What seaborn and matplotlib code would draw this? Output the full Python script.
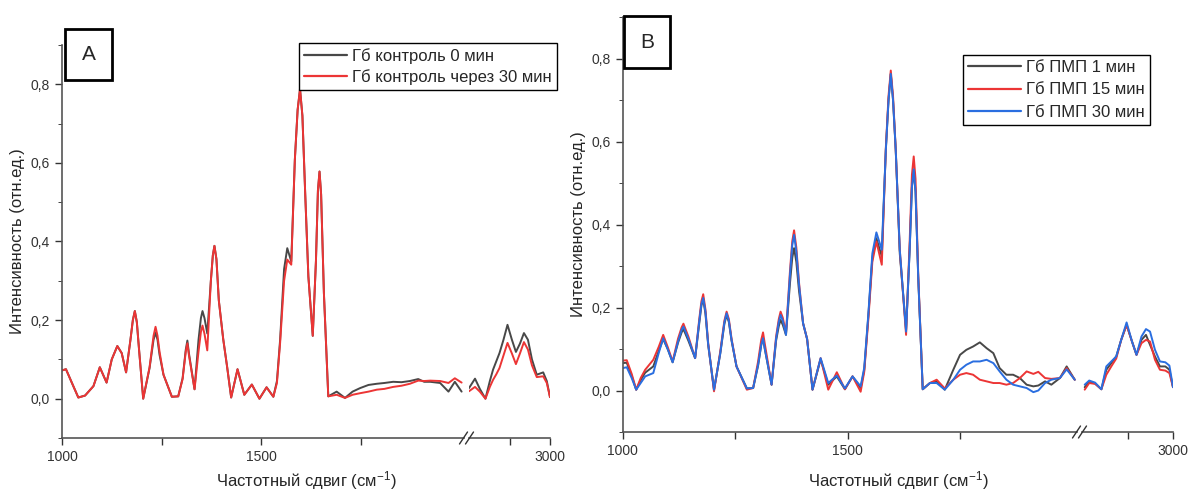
import numpy as np
import pandas as pd
import matplotlib
matplotlib.use("Agg")
import matplotlib.pyplot as plt
import seaborn as sns
from matplotlib.lines import Line2D
from matplotlib.patches import Rectangle
from matplotlib.ticker import FuncFormatter, FixedLocator

# ---- panel A: control Hb (segment 1000-2010 and 2800-3000 cm-1)
a1_x = [1000, 1010, 1025, 1041, 1058, 1079, 1095, 1112, 1125, 1139, 1150, 1161, 1172, 1178, 1183, 1188, 1194,
        1204, 1220, 1230, 1235, 1240, 1245, 1255, 1276, 1292, 1303, 1311, 1315, 1319, 1333, 1343, 1349, 1353, 1358,
        1365, 1374, 1379, 1383, 1388,
        1394, 1405, 1415, 1425, 1441, 1458, 1477, 1496, 1514, 1531, 1540, 1548, 1558, 1566, 1576,
        1585, 1592, 1598, 1604, 1611, 1619, 1630, 1638, 1643, 1647, 1651, 1658, 1669, 1690, 1711, 1730, 1749, 1770,
        1791,
        1810, 1832, 1853, 1874, 1895, 1910, 1925, 1950, 1971, 1987, 2004]
a1_black = [0.072, 0.075, 0.040, 0.003, 0.008, 0.032, 0.080, 0.041, 0.100, 0.134, 0.116, 0.067, 0.150, 0.200, 0.223,
            0.195, 0.120,
            0.000, 0.078, 0.150, 0.168, 0.150, 0.112, 0.061, 0.005, 0.006, 0.052, 0.125, 0.148, 0.115, 0.024, 0.150,
            0.205, 0.223, 0.205, 0.166, 0.300, 0.365, 0.389, 0.355,
            0.250, 0.152, 0.080, 0.003, 0.075, 0.010, 0.036, 0.000, 0.029, 0.005, 0.045, 0.150, 0.330, 0.383, 0.349,
            0.608, 0.735, 0.788, 0.720, 0.523, 0.311, 0.160, 0.350, 0.530, 0.578, 0.520, 0.269, 0.006, 0.018, 0.002,
            0.018, 0.027, 0.035, 0.038,
            0.040, 0.043, 0.042, 0.045, 0.050, 0.043, 0.043, 0.040, 0.018, 0.043, 0.018]
a1_red = [0.072, 0.075, 0.040, 0.003, 0.008, 0.032, 0.080, 0.041, 0.100, 0.134, 0.116, 0.067, 0.150, 0.200, 0.223,
          0.195, 0.120,
          0.000, 0.080, 0.160, 0.183, 0.160, 0.120, 0.061, 0.005, 0.006, 0.050, 0.120, 0.141, 0.110, 0.024, 0.120,
          0.170, 0.186, 0.165, 0.123, 0.300, 0.365, 0.389, 0.355,
          0.250, 0.152, 0.080, 0.003, 0.075, 0.010, 0.036, 0.000, 0.029, 0.005, 0.040, 0.142, 0.300, 0.354, 0.341,
          0.608, 0.735, 0.788, 0.720, 0.523, 0.311, 0.160, 0.350, 0.530, 0.578, 0.520, 0.269, 0.006, 0.010, 0.002,
          0.010, 0.014, 0.018, 0.023,
          0.025, 0.030, 0.033, 0.038, 0.046, 0.045, 0.046, 0.045, 0.040, 0.052, 0.041]
a2_x = [2798, 2813, 2825, 2839, 2850, 2858, 2866, 2874, 2884, 2894, 2905, 2915, 2925, 2935, 2945, 2955, 2967, 2983, 2992, 3000]
a2_black = [0.027, 0.051, 0.025, 0.000, 0.045, 0.074, 0.095, 0.116, 0.150, 0.188, 0.150, 0.119, 0.140, 0.167, 0.150,
            0.100, 0.061, 0.067, 0.045, 0.004]
a2_red = [0.019, 0.030, 0.018, 0.000, 0.030, 0.048, 0.062, 0.078, 0.110, 0.142, 0.115, 0.088, 0.115, 0.144, 0.125,
          0.085, 0.055, 0.057, 0.040, 0.004]
a_names = ["Гб контроль 0 мин", "Гб контроль через 30 мин"]

# ---- panel B: Hb + PMP at 1, 15, 30 min
b1_x = [1000, 1009, 1020, 1030, 1040, 1050, 1068, 1080, 1090, 1100, 1111, 1123, 1131, 1135, 1146, 1161,
        1170, 1175, 1179, 1184, 1190, 1203, 1217, 1226, 1231, 1236, 1242, 1253, 1276, 1290, 1301, 1308, 1312, 1316,
        1331, 1341, 1347, 1351, 1356,
        1363, 1372, 1377, 1381, 1386, 1392, 1401, 1410, 1422, 1440, 1457, 1476, 1494, 1511, 1529, 1537, 1546,
        1555, 1564, 1576, 1585, 1591, 1596, 1601, 1607, 1616, 1630, 1638, 1643, 1647, 1651, 1657, 1667, 1683, 1698,
        1716,
        1735, 1750, 1764, 1779, 1794, 1809, 1824, 1838, 1853, 1868, 1883, 1898, 1913, 1924, 1939, 1953, 1972, 1987,
        2005]
b1_black = [0.066, 0.067, 0.035, 0.002, 0.025, 0.043, 0.058, 0.095, 0.124, 0.100, 0.068, 0.115, 0.140, 0.148, 0.120,
            0.078,
            0.160, 0.205, 0.219, 0.185, 0.110, 0.002, 0.090, 0.160, 0.182, 0.165, 0.120, 0.058, 0.005, 0.006, 0.060,
            0.110, 0.126, 0.100, 0.014, 0.120, 0.155, 0.170, 0.158,
            0.134, 0.260, 0.320, 0.343, 0.310, 0.240, 0.162, 0.124, 0.002, 0.075, 0.014, 0.034, 0.003, 0.034, 0.006,
            0.050, 0.178,
            0.320, 0.367, 0.323, 0.580, 0.700, 0.763, 0.700, 0.580, 0.330, 0.146, 0.340, 0.490, 0.532, 0.480, 0.273,
            0.003, 0.018, 0.022, 0.002,
            0.050, 0.086, 0.098, 0.106, 0.116, 0.102, 0.090, 0.054, 0.038, 0.038, 0.030, 0.014, 0.010, 0.012, 0.022,
            0.014, 0.030, 0.058, 0.026]
b1_red = [0.072, 0.073, 0.040, 0.002, 0.030, 0.050, 0.074, 0.105, 0.134, 0.105, 0.070, 0.125, 0.152, 0.161, 0.130,
          0.078,
          0.170, 0.215, 0.232, 0.195, 0.115, -0.002, 0.095, 0.168, 0.190, 0.172, 0.125, 0.058, 0.002, 0.006, 0.070,
          0.122, 0.140, 0.112, 0.014, 0.130, 0.172, 0.190, 0.175,
          0.138, 0.290, 0.360, 0.386, 0.345, 0.260, 0.162, 0.124, 0.002, 0.078, 0.002, 0.044, 0.003, 0.034, -0.003,
          0.045, 0.170,
          0.310, 0.359, 0.303, 0.585, 0.710, 0.771, 0.710, 0.580, 0.339, 0.134, 0.360, 0.520, 0.564, 0.510, 0.280,
          0.003, 0.018, 0.026, 0.005,
          0.026, 0.038, 0.042, 0.038, 0.026, 0.022, 0.018, 0.018, 0.014, 0.018, 0.030, 0.046, 0.040, 0.045, 0.030,
          0.028, 0.030, 0.054, 0.026]
b1_blue = [0.054, 0.056, 0.030, 0.002, 0.018, 0.034, 0.042, 0.090, 0.126, 0.100, 0.068, 0.118, 0.146, 0.154, 0.125,
           0.078,
           0.165, 0.208, 0.223, 0.190, 0.112, 0.002, 0.090, 0.164, 0.186, 0.168, 0.122, 0.058, 0.005, 0.006, 0.062,
           0.110, 0.126, 0.100, 0.014, 0.125, 0.165, 0.182, 0.168,
           0.134, 0.280, 0.350, 0.375, 0.335, 0.255, 0.162, 0.124, 0.002, 0.078, 0.018, 0.036, 0.005, 0.034, 0.010,
           0.055, 0.182,
           0.330, 0.381, 0.339, 0.580, 0.700, 0.763, 0.700, 0.580, 0.339, 0.142, 0.340, 0.490, 0.533, 0.480, 0.273,
           0.003, 0.018, 0.018, 0.002,
           0.026, 0.050, 0.062, 0.070, 0.070, 0.074, 0.066, 0.046, 0.026, 0.014, 0.010, 0.006, -0.004, 0.000, 0.018,
           0.026, 0.030, 0.051, 0.026]
b2_x = [2804, 2814, 2827, 2841, 2852, 2863, 2874, 2885, 2897, 2909, 2919, 2930, 2940, 2949, 2960, 2971, 2983, 2992, 3000]
b2_black = [0.008, 0.020, 0.017, 0.003, 0.050, 0.066, 0.082, 0.122, 0.158, 0.118, 0.086, 0.122, 0.134, 0.110, 0.082,
            0.058, 0.058, 0.050, 0.008]
b2_red = [0.002, 0.018, 0.016, 0.003, 0.038, 0.058, 0.077, 0.122, 0.158, 0.118, 0.086, 0.114, 0.122, 0.118, 0.074,
          0.050, 0.048, 0.042, 0.008]
b2_blue = [0.014, 0.024, 0.019, 0.003, 0.058, 0.070, 0.082, 0.122, 0.164, 0.118, 0.086, 0.130, 0.148, 0.142, 0.098,
           0.070, 0.068, 0.060, 0.008]
b_names = ["Гб ПМП 1 мин", "Гб ПМП 15 мин", "Гб ПМП 30 мин"]

colors = ["#484848", "#ec3535", "#2a6ee0"]

sns.set_style("ticks")
plt.rcParams['font.family'] = ['Liberation Sans', 'DejaVu Sans']
plt.rcParams['mathtext.fontset'] = 'custom'
plt.rcParams['mathtext.rm'] = 'Liberation Sans'
plt.rcParams['mathtext.it'] = 'Liberation Sans'

W, H = 1191, 493
fig = plt.figure(figsize=(W / 100, H / 100), dpi=100)


def box(x0, x1, ytop, ybot):
    return [x0 / W, 1 - ybot / H, (x1 - x0) / W, (ybot - ytop) / H]


def long_df(x, series, names):
    parts = [pd.DataFrame({"w": x, "I": y, "s": n}) for y, n in zip(series, names)]
    return pd.concat(parts, ignore_index=True)


comma = FuncFormatter(lambda v, p: f"{v:.1f}".replace(".", ","))


def panel(px, ytop, ybot, seg1, seg2, names):
    ax1 = fig.add_axes(box(px[0], px[1], ytop, ybot))
    ax2 = fig.add_axes(box(px[2], px[3], ytop, ybot))
    pal = dict(zip(names, colors))
    for ax, (x, series) in zip([ax1, ax2], [seg1, seg2]):
        sns.lineplot(data=long_df(x, series, names), x="w", y="I", hue="s", palette=pal,
                     estimator=None, sort=False, linewidth=1.4, legend=False, ax=ax)
        ax.set_ylim(-0.1, 0.9)
        ax.set_xlabel("")
        ax.set_ylabel("")
        ax.patch.set_alpha(0)
        for s in ["top", "right"]:
            ax.spines[s].set_visible(False)
        ax.tick_params(axis="both", direction="out", length=5, width=1, labelsize=10, colors="#333333")
        ax.tick_params(which="minor", length=3)
    ax1.set_xlim(1000, 2010)
    ax2.set_xlim(2798, 3000)
    ax1.xaxis.set_major_locator(FixedLocator([1000, 1250, 1500, 1750]))
    ax1.set_xticklabels(["1000", "", "1500", ""])
    ax2.xaxis.set_major_locator(FixedLocator([2900, 3000]))
    ax2.set_xticklabels(["", "3000"])
    ax1.yaxis.set_major_locator(FixedLocator([0.0, 0.2, 0.4, 0.6, 0.8]))
    ax1.yaxis.set_minor_locator(FixedLocator([-0.1, 0.1, 0.3, 0.5, 0.7, 0.9]))
    ax1.yaxis.set_major_formatter(comma)
    ax2.spines["left"].set_visible(False)
    ax2.set_yticks([])
    for ax in [ax1, ax2]:
        for s in ["left", "bottom"]:
            ax.spines[s].set_color("#555555")
            ax.spines[s].set_linewidth(1.2)
    ax1.set_ylabel("Интенсивность (отн.ед.)", fontsize=12, labelpad=4)
    xc = (px[0] + px[3]) / 2 / W
    fig.text(xc, 1 - 481 / H, "Частотный сдвиг (см$^{-1}$)", ha="center", va="center", fontsize=12)
    # break marks
    gx = (px[1] + px[2]) / 2
    for dx in (-3, 3):
        fig.add_artist(Line2D([(gx + dx - 4) / W, (gx + dx + 4) / W],
                              [1 - (ybot + 6) / H, 1 - (ybot - 6) / H],
                              color="#333333", linewidth=1.0))
    return ax1, ax2


panel([62, 464, 469, 550], 45, 438, (a1_x, [a1_black, a1_red]), (a2_x, [a2_black, a2_red]), a_names)
panel([622.7, 1077, 1082, 1173], 17, 432, (b1_x, [b1_black, b1_red, b1_blue]),
      (b2_x, [b2_black, b2_red, b2_blue]), b_names)

# legends
for names, anchor, spacing, hlen in [(a_names, (557, 43), 0.3, 2.6), (b_names, (1150, 55), 0.45, 3.2)]:
    handles = [Line2D([], [], color=c, linewidth=1.6) for c in colors[:len(names)]]
    leg = fig.legend(handles, names, loc="upper right", bbox_to_anchor=(anchor[0] / W, 1 - anchor[1] / H),
                     fontsize=12, frameon=True, fancybox=False, framealpha=1, handlelength=hlen,
                     handletextpad=0.3, borderpad=0.3, labelspacing=spacing, borderaxespad=0)
    leg.get_frame().set_edgecolor("black")
    leg.get_frame().set_linewidth(1.0)

# panel letters
for letter, (x0, y0, x1, y1) in [("A", (65, 29, 112, 80)), ("B", (624, 16, 670, 68))]:
    fig.add_artist(Rectangle((x0 / W, 1 - y1 / H), (x1 - x0) / W, (y1 - y0) / H,
                             transform=fig.transFigure, fill=False, edgecolor="black", linewidth=2))
    fig.text((x0 + x1) / 2 / W, 1 - (y0 + y1) / 2 / H, letter, ha="center", va="center", fontsize=15)

fig.savefig("out.png", dpi=100)
